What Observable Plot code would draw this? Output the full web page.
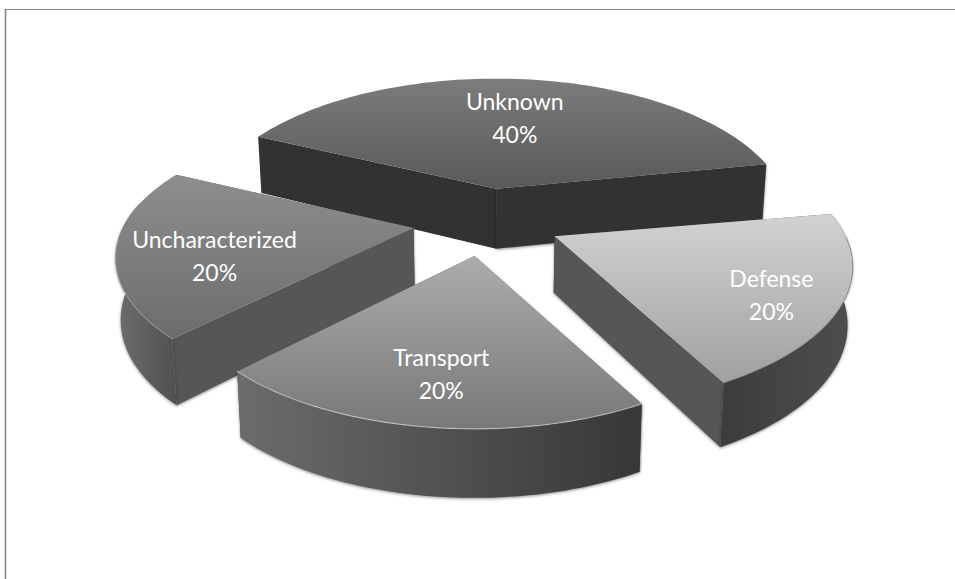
<!DOCTYPE html>
<html>
<head>
<meta charset="utf-8">
<script src="https://cdn.jsdelivr.net/npm/d3@7"></script>
<script src="https://cdn.jsdelivr.net/npm/@observablehq/plot@0.6"></script>
<style>html,body{margin:0;background:#fff}svg{display:block}</style>
</head>
<body>
<div id="chart"></div>
<script>
// Data
const categories = ["Unknown", "Uncharacterized", "Defense", "Transport"];
const shares = [40, 20, 20, 20];
// Slice order round the pie, clockwise from the first cut
const pieOrder = ["Unknown", "Defense", "Transport", "Uncharacterized"];
const firstCutDeg = -65;

// Style (greys per slice)
const topLight = {Unknown: "#7c7c7c", Uncharacterized: "#8e8e8e", Defense: "#d2d2d2", Transport: "#acacac"};
const topDark = {Unknown: "#595959", Uncharacterized: "#6c6c6c", Defense: "#a0a0a0", Transport: "#787878"};
const wallLeft = {Unknown: "#333333", Uncharacterized: "#6e6e6e", Defense: "#3c3c3c", Transport: "#6c6c6c"};
const wallRight = {Unknown: "#333333", Uncharacterized: "#505050", Defense: "#4e4e4e", Transport: "#373737"};
const cutColor = {Unknown: "#323232", Uncharacterized: "#565656", Defense: "#565656", Transport: "#565656"};
const rimColor = {Unknown: "#999999", Uncharacterized: "#aaaaaa", Defense: "#808080", Transport: "#dddddd"};
const rimOpacity = {Unknown: 0, Uncharacterized: 0.45, Defense: 0.5, Transport: 0.6};

// Projection of the tilted pie
const W = 955, H = 579;
const cx = 486, cy = 221, A = 291, B = 134, k = 0.217, explode = 0.256;
const depthBase = 60, depthGrow = 9, converge = 0.014;
const project = (X, Y) => [A * X / (1 - k * Y), B * Y / (1 - k * Y)];
const rad = d => d * Math.PI / 180;

// Small per-slice corrections of the projection
const sliceTurn = {Unknown: 0, Defense: 1, Transport: 1, Uncharacterized: 1.5};
const sliceScaleX = {Unknown: 0.985, Defense: 1, Transport: 0.99, Uncharacterized: 1};
const sliceScaleY = {Unknown: 1, Defense: 1, Transport: 1.01, Uncharacterized: 0.98};
const sliceShiftX = {Unknown: 1, Defense: -1, Transport: -2.5, Uncharacterized: 1};
const sliceShiftY = {Unknown: -0.5, Defense: 0, Transport: -1.5, Uncharacterized: 0};
const sliceDepthTrim = {Unknown: 0, Defense: 3.5, Transport: 0, Uncharacterized: 0};

// Label placement in slice coordinates
const labelRadius = {Unknown: 0.59, Defense: 0.80, Transport: 0.755, Uncharacterized: 0.69};
const labelTurn = {Unknown: -1, Defense: 4, Transport: -1, Uncharacterized: -7};
const labelShiftX = {Unknown: 3, Defense: -4, Transport: -1.5, Uncharacterized: 2};
const labelShiftY = {Unknown: -3, Defense: -2, Transport: -5.5, Uncharacterized: -1.5};

const shareOf = Object.fromEntries(categories.map((c, i) => [c, shares[i]]));
const total = d3.sum(shares);

let from = firstCutDeg;
const slices = pieOrder.map(name => {
  const sweep = shareOf[name] / total * 360;
  const t0 = from + sliceTurn[name], t1 = t0 + sweep, base = from + sweep / 2;
  from += sweep;
  const mid = (t0 + t1) / 2;
  const [ox, oy] = project(explode * Math.sin(rad(base)), -explode * Math.cos(rad(base)));
  const ax = cx + ox + sliceShiftX[name], ay = cy + oy + sliceShiftY[name];
  const top = (t, r = 1) => {
    const X = r * Math.sin(rad(t)), Y = -r * Math.cos(rad(t));
    const [px, py] = project(X, Y);
    return {x: ax + px * sliceScaleX[name], y: ay + py * sliceScaleY[name], Y};
  };
  const down = p => ({
    x: p.x - (p.x - cx) * converge,
    y: p.y + depthBase + depthGrow * p.Y - sliceDepthTrim[name]
  });
  const arc = d3.range(t0, t1, 1.5).concat([t1]).map(t => top(t));
  const apex = {x: ax, y: ay, Y: 0};
  const front = arc.filter(p => p.Y > -0.2);
  const cutAt = p => [apex, p, down(p), down(apex)];
  const first = arc[0], last = arc[arc.length - 1];
  const [farEnd, nearEnd] = first.Y < last.Y ? [first, last] : [last, first];
  const lp = top(mid + labelTurn[name], labelRadius[name]);
  return {
    name, id: name.toLowerCase(), apex, arc,
    face: [apex, ...arc],
    wall: front.length ? [...front, ...front.map(down).reverse()] : [],
    cutFar: cutAt(farEnd),
    cutNear: cutAt(nearEnd),
    label: {x: lp.x + labelShiftX[name], y: lp.y + labelShiftY[name], text: `${name}\n${shareOf[name]}%`}
  };
});

// Paint from back to front
const paintOrder = ["Unknown", "Uncharacterized", "Defense", "Transport"]
  .map(n => slices.find(s => s.name === n));

const gradients = () => {
  const defs = d3.create("svg:defs");
  for (const s of slices) {
    const g1 = defs.append("linearGradient").attr("id", `top-${s.id}`)
      .attr("x1", 0).attr("x2", 0).attr("y1", 0).attr("y2", 1);
    g1.append("stop").attr("offset", 0).attr("stop-color", topLight[s.name]);
    g1.append("stop").attr("offset", 1).attr("stop-color", topDark[s.name]);
    const g2 = defs.append("linearGradient").attr("id", `wall-${s.id}`)
      .attr("x1", 0).attr("x2", 1).attr("y1", 0).attr("y2", 0);
    g2.append("stop").attr("offset", 0).attr("stop-color", wallLeft[s.name]);
    g2.append("stop").attr("offset", 1).attr("stop-color", wallRight[s.name]);
  }
  return defs.node();
};

const shadow = "drop-shadow(0px 1px 1.5px rgba(0,0,0,0.45))";
const poly = (pts, fill, extra = {}) =>
  Plot.line(pts, {x: "x", y: "y", curve: "linear-closed", fill, stroke: "none", ...extra});

const marks = [
  gradients,
  Plot.ruleY([9], {x1: 5, x2: W, stroke: "#808080", strokeWidth: 1}),
  Plot.ruleX([5], {y1: 9, y2: H, stroke: "#808080", strokeWidth: 1.5})
];
for (const s of paintOrder) {
  marks.push(
    poly(s.cutFar, cutColor[s.name]),
    poly(s.cutNear, cutColor[s.name], {imageFilter: shadow}),
    poly(s.wall, `url(#wall-${s.id})`, {imageFilter: shadow}),
    poly(s.face, `url(#top-${s.id})`),
    Plot.line(s.arc.filter(p => p.Y > 0), {
      x: "x", y: "y", stroke: rimColor[s.name], strokeWidth: 1.2,
      strokeOpacity: rimOpacity[s.name], fill: "none"
    })
  );
}
marks.push(
  Plot.text(slices.map(s => s.label), {
    x: "x", y: "y", text: "text", fill: "white", fontSize: 23,
    fontFamily: "Lato, 'Open Sans', sans-serif", lineHeight: 1.44,
    textAnchor: "middle", lineAnchor: "middle"
  })
);

const chart = Plot.plot({
  width: W, height: H, margin: 0,
  x: {domain: [0, W], range: [0, W], axis: null},
  y: {domain: [0, H], range: [0, H], axis: null},
  style: {background: "white"},
  marks
});
document.getElementById("chart").append(chart);
</script>
</body>
</html>
